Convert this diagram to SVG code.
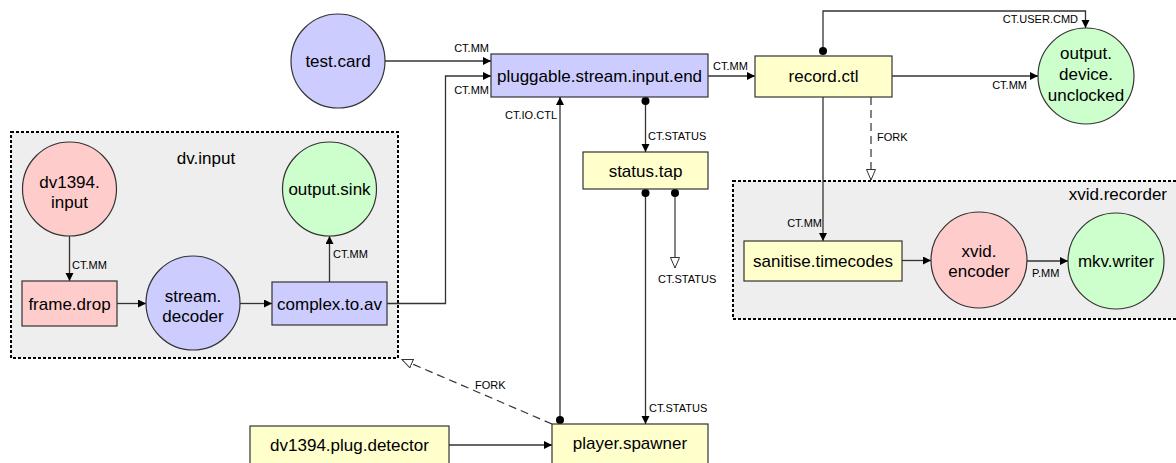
<svg xmlns="http://www.w3.org/2000/svg" width="1176" height="463" viewBox="0 0 1176 463">
<defs>
<style>
text{font-family:"Liberation Sans",Arial,sans-serif;fill:#000}
.n{font-size:17px;text-anchor:middle}
.l{font-size:11px}
.e{text-anchor:end}
.c{fill:#eeeeee;stroke:#000;stroke-width:2;stroke-dasharray:3 2}
.blue{fill:#ccccff;stroke:#333;stroke-width:1.2}
.green{fill:#ccffcc;stroke:#333;stroke-width:1.2}
.red{fill:#ffcccc;stroke:#333;stroke-width:1.2}
.yel{fill:#ffffcc;stroke:#333;stroke-width:1.2}
.w{fill:none;stroke:#333;stroke-width:1.3;marker-end:url(#arr)}
.f{fill:none;stroke:#333;stroke-width:1.2;stroke-dasharray:8 5;marker-end:url(#hol)}
.d{marker-start:url(#dot)}
</style>
<marker id="arr" markerUnits="userSpaceOnUse" markerWidth="10" markerHeight="10" refX="8" refY="4" orient="auto"><path d="M0,0 L8,4 L0,8 z" fill="#000"/></marker>
<marker id="hol" markerUnits="userSpaceOnUse" markerWidth="14" markerHeight="12" refX="11" refY="5" orient="auto"><path d="M0.5,0.5 L11,5 L0.5,9.5 z" fill="#fff" stroke="#333" stroke-width="1"/></marker>
<marker id="dot" markerUnits="userSpaceOnUse" markerWidth="10" markerHeight="10" refX="5" refY="5" orient="auto"><circle cx="5" cy="5" r="4" fill="#000"/></marker>
</defs>

<g id="dv.input">
<rect class="c" x="11" y="132" width="387" height="226"/>
<text class="n" x="206" y="164">dv.input</text>
</g>
<g id="xvid.recorder">
<rect class="c" x="733" y="181" width="460" height="138"/>
<text class="n e" x="1167" y="200">xvid.recorder</text>
</g>

<g id="connectors">
<line class="w" x1="385" y1="61" x2="491" y2="61"/>
<text class="l e" x="489" y="52">CT.MM</text>
<polyline class="w" points="387,303.5 445.5,303.5 445.5,76 491,76"/>
<text class="l e" x="489" y="94">CT.MM</text>
<line class="w" x1="708" y1="76" x2="755" y2="76"/>
<text class="l" x="713" y="70">CT.MM</text>
<line class="w" x1="892" y1="76" x2="1038" y2="76"/>
<text class="l e" x="1027" y="89">CT.MM</text>
<polyline class="w d" points="823,51 823,11 1085.5,11 1085.5,28"/>
<text class="l e" x="1078" y="23">CT.USER.CMD</text>
<line class="w" x1="823" y1="97" x2="823" y2="241"/>
<text class="l e" x="822" y="227">CT.MM</text>
<line class="f" x1="871" y1="97" x2="871" y2="180"/>
<text class="l" x="877" y="141">FORK</text>
<line class="w d" x1="645.5" y1="101" x2="645.5" y2="152"/>
<text class="l" x="648" y="140">CT.STATUS</text>
<line class="w d" x1="645.5" y1="193" x2="645.5" y2="424"/>
<text class="l" x="649" y="412">CT.STATUS</text>
<line class="f d" style="stroke-dasharray:none" x1="675" y1="193" x2="675" y2="268"/>
<text class="l" x="658" y="283">CT.STATUS</text>
<line class="w d" x1="560" y1="420" x2="560" y2="97"/>
<text class="l e" x="557" y="119">CT.IO.CTL</text>
<line class="w" x1="449" y1="445" x2="552" y2="445"/>
<line class="f" x1="552" y1="424" x2="402" y2="359.5"/>
<text class="l" x="475" y="389">FORK</text>
<line class="w" x1="69.5" y1="236" x2="69.5" y2="281"/>
<text class="l" x="72" y="269">CT.MM</text>
<line class="w" x1="117" y1="303.5" x2="146" y2="303.5"/>
<line class="w" x1="240" y1="303.5" x2="272" y2="303.5"/>
<line class="w" x1="329.5" y1="282" x2="329.5" y2="236"/>
<text class="l" x="333" y="258">CT.MM</text>
<line class="w" x1="902" y1="260.5" x2="931" y2="260.5"/>
<line class="w" x1="1027" y1="261" x2="1068" y2="261"/>
<text class="l" x="1032" y="277">P.MM</text>
</g>

<g id="test.card"><circle class="blue" cx="338" cy="61" r="47"/><text class="n" x="338" y="67">test.card</text></g>
<g id="pluggable.stream.input.end"><rect class="blue" x="491" y="54" width="217" height="43"/><text class="n" x="599.5" y="81.5">pluggable.stream.input.end</text></g>
<g id="record.ctl"><rect class="yel" x="755" y="56" width="137" height="41"/><text class="n" x="823.5" y="82">record.ctl</text></g>
<g id="output.device.unclocked"><circle class="green" cx="1086" cy="76" r="48"/><text class="n" x="1086" y="59">output.</text><text class="n" x="1086" y="80">device.</text><text class="n" x="1086" y="101">unclocked</text></g>
<g id="status.tap"><rect class="yel" x="583" y="152" width="125" height="37"/><text class="n" x="645.5" y="176.5">status.tap</text></g>
<g id="dv1394.input"><circle class="red" cx="69.5" cy="189" r="47"/><text class="n" x="69.5" y="188">dv1394.</text><text class="n" x="69.5" y="208">input</text></g>
<g id="output.sink"><circle class="green" cx="329.5" cy="189" r="47"/><text class="n" x="329.5" y="195">output.sink</text></g>
<g id="frame.drop"><rect class="red" x="22" y="281" width="95" height="45"/><text class="n" x="69.5" y="309.5">frame.drop</text></g>
<g id="stream.decoder"><circle class="blue" cx="193" cy="303" r="47"/><text class="n" x="193" y="302">stream.</text><text class="n" x="193" y="322">decoder</text></g>
<g id="complex.to.av"><rect class="blue" x="272" y="282" width="115" height="43"/><text class="n" x="329.5" y="309.5">complex.to.av</text></g>
<g id="sanitise.timecodes"><rect class="yel" x="744" y="241" width="158" height="40"/><text class="n" x="823" y="267">sanitise.timecodes</text></g>
<g id="xvid.encoder"><circle class="red" cx="979" cy="260" r="48"/><text class="n" x="979" y="257">xvid.</text><text class="n" x="979" y="277">encoder</text></g>
<g id="mkv.writer"><circle class="green" cx="1116" cy="261" r="48"/><text class="n" x="1116" y="267">mkv.writer</text></g>
<g id="dv1394.plug.detector"><rect class="yel" x="250" y="426" width="199" height="45"/><text class="n" x="349.5" y="451">dv1394.plug.detector</text></g>
<g id="player.spawner"><rect class="yel" x="552" y="424" width="156" height="45"/><text class="n" x="630" y="449">player.spawner</text></g>
</svg>
